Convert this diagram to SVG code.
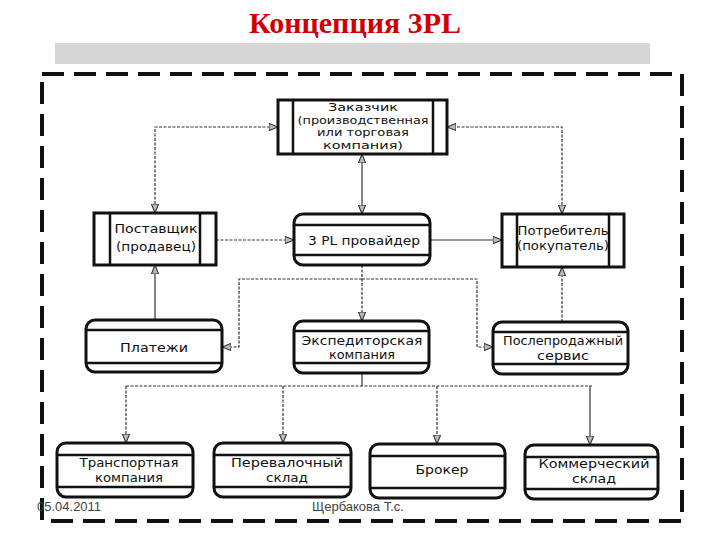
<svg xmlns="http://www.w3.org/2000/svg" width="720" height="540" viewBox="0 0 720 540">
<style>
.box{fill:#fff;stroke:#111;stroke-width:3}
.bar{fill:none;stroke:#111;stroke-width:2.5}
.t{font-family:"DejaVu Sans","Liberation Sans",Arial,sans-serif;font-size:13px;fill:#111;text-anchor:middle}
.s{font-size:11px}
.m{font-size:12px}
.c{fill:none;stroke:#333;stroke-width:1.2}
.d{stroke-dasharray:3 1.5}
.foot{font-family:"Liberation Sans",Arial,sans-serif;font-size:13px;fill:#444}
</style>
<defs>
<marker id="ar" viewBox="0 0 10 10" refX="10" refY="5" markerWidth="9" markerHeight="9" markerUnits="userSpaceOnUse" orient="auto-start-reverse">
<path d="M0,1 L10,5 L0,9 Z" fill="#bbb" stroke="#333" stroke-width="1.2"/>
</marker>
</defs>
<rect width="720" height="540" fill="#fff"/>
<text x="355" y="33" font-family="Liberation Serif,'Times New Roman',serif" font-weight="bold" font-size="30" fill="#d00000" text-anchor="middle">Концепция 3PL</text>
<rect x="55" y="43" width="595" height="21" fill="#d6d6d6"/>
<rect x="42" y="74" width="640" height="447" fill="none" stroke="#111" stroke-width="4" stroke-dasharray="22 10"/>

<g id="connectors">
<path class="c d" d="M155,213 V127 H278" marker-start="url(#ar)" marker-end="url(#ar)"/>
<path class="c d" d="M562,214 V127 H447" marker-start="url(#ar)" marker-end="url(#ar)"/>
<path class="c" d="M362,154 V214" marker-start="url(#ar)" marker-end="url(#ar)"/>
<path class="c d" d="M216,240 H294" marker-end="url(#ar)"/>
<path class="c" d="M430,240 H502" marker-end="url(#ar)"/>
<path class="c" d="M155,320 V265" marker-end="url(#ar)"/>
<path class="c d" d="M562,322 V267" marker-end="url(#ar)"/>
<path class="c d" d="M362,265 V321" marker-end="url(#ar)"/>
<path class="c d" d="M362,279 H239 V347 H222" marker-end="url(#ar)"/>
<path class="c d" d="M362,279 H477 V347 H493" marker-end="url(#ar)"/>
<path class="c" d="M362,373 V386"/>
<path class="c d" d="M126,386 H592"/>
<path class="c d" d="M126,386 V443" marker-end="url(#ar)"/>
<path class="c d" d="M283,386 V443" marker-end="url(#ar)"/>
<path class="c d" d="M437,386 V444" marker-end="url(#ar)"/>
<path class="c" d="M590,386 V445" marker-end="url(#ar)"/>
</g>

<g id="zakazchik">
<rect class="box" x="278" y="100" width="169" height="54"/>
<path class="bar" d="M293,100 V154 M433,100 V154"/>
<text class="t s" x="363" y="111" textLength="70" lengthAdjust="spacingAndGlyphs">Заказчик</text>
<text class="t s" x="363" y="123.5" textLength="131" lengthAdjust="spacingAndGlyphs">(производственная</text>
<text class="t s" x="363" y="136" textLength="92" lengthAdjust="spacingAndGlyphs">или торговая</text>
<text class="t s" x="363" y="148.5" textLength="80" lengthAdjust="spacingAndGlyphs">компания)</text>
</g>

<g id="postavshchik">
<rect class="box" x="94" y="213" width="122" height="52"/>
<path class="bar" d="M110,213 V265 M200,213 V265"/>
<text class="t" x="156" y="233" textLength="83" lengthAdjust="spacingAndGlyphs">Поставщик</text>
<text class="t" x="156" y="251" textLength="80" lengthAdjust="spacingAndGlyphs">(продавец)</text>
</g>

<g id="provider">
<rect class="box" x="294" y="214" width="136" height="51" rx="9"/>
<path class="bar" d="M294,225 H430 M294,255 H430"/>
<text class="t" x="364" y="245" textLength="112" lengthAdjust="spacingAndGlyphs">3 PL провайдер</text>
</g>

<g id="potrebitel">
<rect class="box" x="502" y="214" width="122" height="53"/>
<path class="bar" d="M517,214 V267 M609,214 V267"/>
<text class="t m" x="563" y="235" textLength="91" lengthAdjust="spacingAndGlyphs">Потребитель</text>
<text class="t m" x="563" y="250" textLength="92" lengthAdjust="spacingAndGlyphs">(покупатель)</text>
</g>

<g id="platezhi">
<rect class="box" x="86" y="320" width="136" height="52" rx="9"/>
<path class="bar" d="M86,330 H222 M86,363 H222"/>
<text class="t" x="154" y="352" textLength="68" lengthAdjust="spacingAndGlyphs">Платежи</text>
</g>

<g id="ekspeditor">
<rect class="box" x="294" y="321" width="135" height="52" rx="9"/>
<path class="bar" d="M294,331 H429 M294,363 H429"/>
<text class="t m" x="362" y="345" textLength="121" lengthAdjust="spacingAndGlyphs">Экспедиторская</text>
<text class="t m" x="362" y="359" textLength="66" lengthAdjust="spacingAndGlyphs">компания</text>
</g>

<g id="posleprodazh">
<rect class="box" x="493" y="322" width="135" height="52" rx="9"/>
<path class="bar" d="M493,332 H628 M493,364 H628"/>
<text class="t m" x="563" y="345" textLength="120" lengthAdjust="spacingAndGlyphs">Послепродажный</text>
<text class="t m" x="563" y="360" textLength="52" lengthAdjust="spacingAndGlyphs">сервис</text>
</g>

<g id="transport">
<rect class="box" x="57" y="443" width="136" height="54" rx="9"/>
<path class="bar" d="M57,455 H193 M57,487 H193"/>
<text class="t m" x="129" y="467" textLength="99" lengthAdjust="spacingAndGlyphs">Транспортная</text>
<text class="t m" x="129" y="482" textLength="68" lengthAdjust="spacingAndGlyphs">компания</text>
</g>

<g id="perevalochny">
<rect class="box" x="214" y="443" width="137" height="54" rx="9"/>
<path class="bar" d="M214,455 H351 M214,487 H351"/>
<text class="t m" x="287" y="467" textLength="112" lengthAdjust="spacingAndGlyphs">Перевалочный</text>
<text class="t m" x="287" y="482" textLength="42" lengthAdjust="spacingAndGlyphs">склад</text>
</g>

<g id="broker">
<rect class="box" x="370" y="444" width="135" height="54" rx="9"/>
<path class="bar" d="M370,456 H505 M370,488 H505"/>
<text class="t" x="442" y="474" textLength="53" lengthAdjust="spacingAndGlyphs">Брокер</text>
</g>

<g id="kommercheskiy">
<rect class="box" x="525" y="445" width="133" height="54" rx="9"/>
<path class="bar" d="M525,457 H658 M525,489 H658"/>
<text class="t m" x="594" y="468" textLength="111" lengthAdjust="spacingAndGlyphs">Коммерческий</text>
<text class="t m" x="594" y="483" textLength="44" lengthAdjust="spacingAndGlyphs">склад</text>
</g>

<text class="foot" x="37" y="511">05.04.2011</text>
<text class="foot" x="312" y="511">Щербакова Т.с.</text>
</svg>
